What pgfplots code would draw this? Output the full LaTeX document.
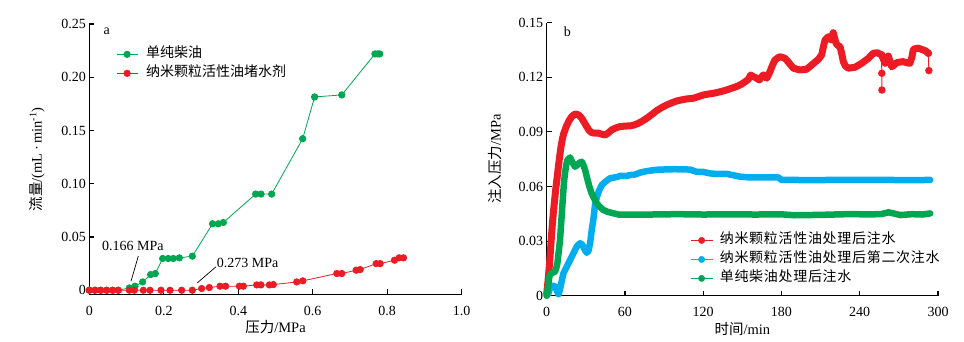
\documentclass[border=0pt]{standalone}
\usepackage{pgfplots}
\pgfplotsset{compat=1.18}
\usepackage{fontspec}
\setmainfont{Liberation Serif}
\newfontfamily\cjk{Noto Sans CJK SC}
\newfontfamily\cjkw[LetterSpace=5]{Noto Sans CJK SC}
\definecolor{cred}{HTML}{ED1C24}
\definecolor{cgreen}{HTML}{00A651}
\definecolor{cblue}{HTML}{00AEEF}
\pgfplotsset{mystyle/.style={scale only axis, axis x line=bottom, axis y line=left,
  axis line style={-, line width=1.1pt, black}, tick align=inside, major tick length=5pt,
  tick style={line width=1.1pt, black},
  tick label style={font=\fontsize{14}{16}\selectfont},
  xticklabel style={yshift=-8pt},
  label style={font=\fontsize{14.5}{16}\selectfont},
  clip=false,
  xlabel style={at={(axis description cs:0.5,0)}, anchor=center, yshift=-33pt},
  legend cell align=left,
  legend style={draw=none, fill=none, inner sep=0pt, row sep=6pt,
     nodes={inner sep=0pt, text height=10pt, text depth=3pt}},
}}
\begin{document}
\begin{tikzpicture}
\path[use as bounding box] (0pt,0pt) rectangle (964pt,342pt);
% ---------- panel a
\begin{axis}[mystyle, at={(89.3pt,47.5pt)}, anchor=south west,
  width=372.4pt, height=270.5pt,
  xmin=0, xmax=1, ymin=-0.004, ymax=0.25,
  xtick={0,0.2,0.4,0.6,0.8,1}, xticklabels={0,0.2,0.4,0.6,0.8,1.0},
  ytick={0,0.05,0.1,0.15,0.2,0.25}, yticklabels={0,0.05,0.10,0.15,0.20,0.25},
  xlabel={{\cjk 压力}/MPa},
  ylabel={{\cjk 流量}/(mL\,·\,min\textsuperscript{-1})},
  ylabel style={at={(axis description cs:-0.1405,0.5)}, anchor=center},
  legend style={at={(axis description cs:0.0717,0.9126)}, anchor=north west,
     font=\fontsize{14}{16}\cjk},
  legend image code/.code={\draw[#1, line width=0.8pt] (0pt,0pt) -- (21pt,0pt);
     \draw[#1, mark=*, mark size=3.2pt] plot coordinates {(10.5pt,0pt)}; \path (29pt,0pt);},
]
\addplot[cgreen, line width=0.8pt, mark=*, mark size=3.2pt] table {
0 0
0.0153 0
0.0305 0
0.0466 0
0.0627 0
0.0779 0
0.1075 0.0022
0.1228 0.0038
0.1433 0.0078
0.1648 0.0147
0.1773 0.0157
0.197 0.0298
0.212 0.0298
0.2256 0.0298
0.2418 0.0304
0.2767 0.032
0.331 0.0624
0.3465 0.0624
0.3599 0.0636
0.4467 0.0903
0.461 0.0903
0.4897 0.0903
0.573 0.1423
0.605 0.1815
0.678 0.1834
0.767 0.2219
0.774 0.2219
0.780 0.2219
};
\addlegendentry{单纯柴油}
\addplot[cred, line width=0.8pt, mark=*, mark size=3.2pt] table {
0 0
0.0153 0
0.0305 0
0.0466 0
0.0627 0
0.0779 0
0.1075 0
0.1209 0
0.1451 0
0.163 0
0.1925 0
0.2167 0
0.2480 0
0.2766 0
0.3017 0.0016
0.3223 0.0025
0.351 0.0038
0.366 0.0038
0.4029 0.0038
0.4137 0.0038
0.4495 0.005
0.461 0.005
0.4835 0.005
0.4942 0.0053
0.557 0.0078
0.5733 0.0088
0.6646 0.0157
0.678 0.0157
0.7165 0.0188
0.7273 0.0194
0.7703 0.025
0.781 0.025
0.8195 0.0282
0.832 0.0304
0.8437 0.0304
};
\addlegendentry{纳米颗粒活性油堵水剂}
\draw[line width=0.7pt] (axis cs:0.1316,0.032) -- (axis cs:0.112,0.0085);
\draw[line width=0.7pt] (axis cs:0.340,0.022) -- (axis cs:0.290,0.0069);
\node[anchor=west, inner sep=0pt, font=\fontsize{14}{16}\selectfont] at (axis cs:0.034,0.0417) {0.166 MPa};
\node[anchor=west, inner sep=0pt, font=\fontsize{14}{16}\selectfont] at (axis cs:0.342,0.0257) {0.273 MPa};
\node[font=\fontsize{14}{16}\selectfont] at (axis cs:0.047,0.243) {a};
\end{axis}
% ---------- panel b
\begin{axis}[mystyle, at={(546.7pt,46.3pt)}, anchor=south west,
  width=391.3pt, height=273pt,
  xmin=0, xmax=300, ymin=0, ymax=0.15,
  xtick={0,60,120,180,240,300}, xticklabels={0,60,120,180,240,300},
  ytick={0,0.03,0.06,0.09,0.12,0.15}, yticklabels={0,0.03,0.06,0.09,0.12,0.15},
  xlabel={{\cjk 时间}/min},
  ylabel={{\cjk 注入压力}/MPa},
  ylabel style={at={(axis description cs:-0.132,0.5)}, anchor=center},
  legend style={at={(axis description cs:0.366,0.227)}, anchor=north west,
     font=\fontsize{14}{16}\cjkw},
  legend image code/.code={\draw[#1, line width=1pt] (0pt,0pt) -- (22pt,0pt);
     \draw[#1, mark=*, mark size=3.2pt] plot coordinates {(11pt,0pt)}; \path (29pt,0pt);},
]
\addplot[cred, line width=7pt, line join=round, line cap=round, forget plot] table {
0 0.001
1 0.008
2 0.016
3 0.026
4 0.036
5 0.045
6 0.052
7 0.059
8 0.065
9 0.071
10 0.077
11 0.082
12 0.086
13 0.089
15 0.093
17 0.096
19.2 0.0984
21 0.0995
23 0.0998
25 0.0990
26.8 0.0975
28.5 0.0955
30.7 0.0929
32.5 0.0908
34.5 0.0896
37 0.0893
39.6 0.0893
42 0.0888
44.7 0.0883
47 0.0893
49.8 0.0911
53 0.0922
56.2 0.0929
60 0.0932
63.9 0.0933
67 0.0938
70.2 0.0947
73.5 0.096
76.7 0.0975
80.5 0.0995
84.3 0.1017
88 0.1033
92 0.1048
96 0.106
99.7 0.107
103.5 0.1076
107.3 0.1081
112.4 0.1085
116 0.1093
120.1 0.1103
124 0.1108
127.8 0.1112
131.5 0.1118
135.4 0.1125
139 0.1133
143.1 0.1143
146.5 0.1152
149.5 0.1163
152 0.1175
154.6 0.1189
156.4 0.1213
158 0.1205
159.7 0.12
161.5 0.1192
163 0.1185
164.5 0.12
166.1 0.1213
168.7 0.1195
171.2 0.1231
173 0.1265
175 0.1295
178.4 0.1313
180.5 0.131
182.7 0.1304
184.5 0.129
186 0.1277
189.1 0.125
194.2 0.124
199.3 0.1244
203.2 0.1268
206 0.1285
208.3 0.1299
210.8 0.1323
212.2 0.137
213.4 0.1405
215.9 0.1423
217.7 0.1405
219.7 0.1445
221.8 0.1387
223.2 0.1375
224.9 0.1368
226.2 0.133
227.4 0.1286
229 0.1262
231.2 0.125
236.4 0.1255
241.5 0.1277
246.6 0.1304
250.4 0.1332
253.5 0.1335
256.8 0.1323
259.4 0.1277
261.9 0.1317
264.5 0.1258
266 0.1265
268.3 0.128
271 0.1284
273.4 0.1286
276 0.128
278.5 0.1277
280 0.131
281.1 0.1354
283 0.1358
284.9 0.136
288.7 0.135
290.5 0.1345
292.6 0.1332
};
\addplot[cred, line width=1pt, mark=*, mark size=3.2pt, forget plot] table {
256.8 0.1323
256.9 0.1222
257.0 0.113
};
\addplot[cred, line width=1pt, mark=*, mark size=3.2pt, forget plot] table {
292.6 0.1332
293.0 0.1237
};
\addplot[cblue, line width=6.5pt, line join=round, line cap=round, forget plot] table {
0 0
1.3 0.0013
2.5 0.004
3.8 0.0053
5 0.0055
6.4 0.005
7.7 0.003
9 0.0008
10 0.003
11.5 0.008
12.8 0.0123
14.7 0.015
16.6 0.0178
18.5 0.0205
20.5 0.0233
22 0.0255
23 0.0269
24.3 0.028
25.6 0.0288
27 0.0282
28.1 0.0269
29.5 0.0248
30.7 0.0236
32 0.0245
33.3 0.029
34.5 0.036
35.8 0.042
37 0.0495
38.4 0.054
40 0.0575
42.2 0.0608
44.8 0.0625
48.5 0.0645
53.7 0.0652
56.2 0.0658
61.4 0.0658
63.9 0.0663
67 0.0664
71.5 0.0676
75 0.0682
79.2 0.0687
85 0.0692
92 0.0694
98 0.0695
104.7 0.0694
110 0.0693
113 0.0685
115 0.0681
120 0.068
125.2 0.0672
130 0.0669
138 0.0669
143 0.0662
148.2 0.0654
155 0.0650
161 0.0650
170 0.0650
177.6 0.065
180.2 0.0636
190 0.0636
200 0.0635
220 0.0636
240 0.0636
260 0.0636
280 0.0635
294 0.0636
};
\addplot[cgreen, line width=6.5pt, line join=round, line cap=round, forget plot] table {
0 0
1 0.005
2 0.0104
3 0.012
3.8 0.0123
5 0.0128
6.4 0.0132
7.3 0.015
8.2 0.0178
9.2 0.024
10.2 0.0306
11.2 0.041
12.3 0.0526
13.2 0.062
14 0.0672
15 0.072
15.9 0.0746
17.9 0.076
19.5 0.0735
21.7 0.0709
23.5 0.0718
25 0.073
26.8 0.0736
28 0.072
29.5 0.069
30.7 0.0654
32.5 0.0605
34.5 0.0562
36.5 0.0533
38.3 0.0508
40.5 0.049
43.4 0.0471
47 0.046
51.1 0.0453
55 0.0446
60 0.0445
80 0.0446
100 0.0448
120 0.0446
140 0.0447
160 0.0446
180 0.0447
190 0.0442
210 0.0444
230 0.0448
250 0.0447
257 0.0449
262 0.0458
266 0.0452
271 0.0443
280 0.0448
288 0.0446
294 0.0452
};
\addlegendimage{cred}
\addlegendentry{纳米颗粒活性油处理后注水}
\addlegendimage{cblue}
\addlegendentry{纳米颗粒活性油处理后第二次注水}
\addlegendimage{cgreen}
\addlegendentry{单纯柴油处理后注水}
\node[font=\fontsize{14}{16}\selectfont] at (axis cs:15.8,0.1448) {b};
\end{axis}
\end{tikzpicture}
\end{document}
